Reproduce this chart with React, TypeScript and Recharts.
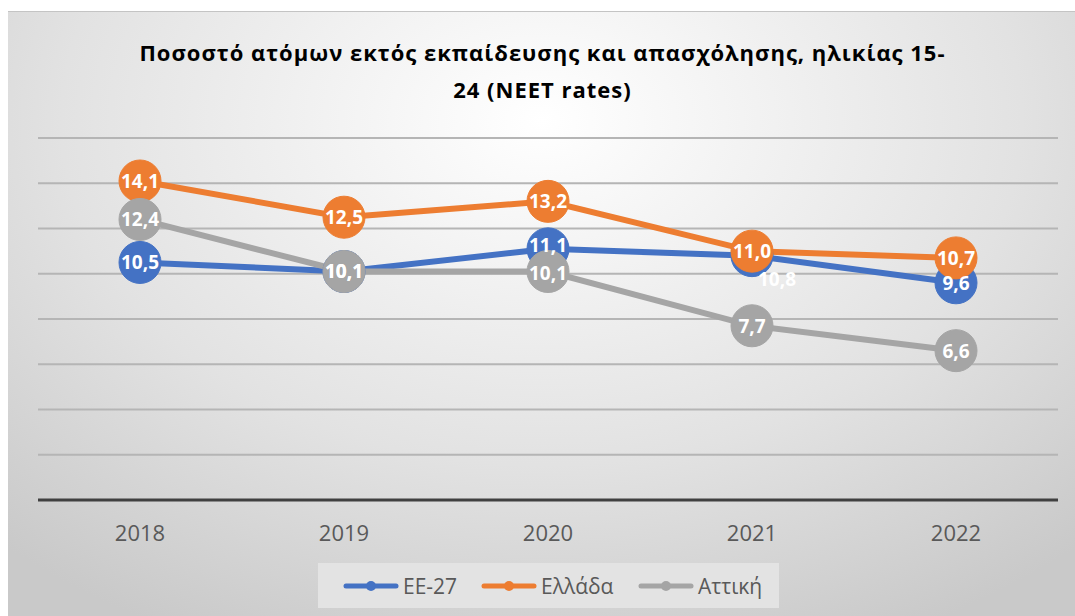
import React from 'react';
import { LineChart, Line, XAxis, YAxis, CartesianGrid, LabelList } from 'recharts';

const years = ['2018', '2019', '2020', '2021', '2022'];
const eu27 = [10.5, 10.1, 11.1, 10.8, 9.6];
const greece = [14.1, 12.5, 13.2, 11.0, 10.7];
const attica = [12.4, 10.1, 10.1, 7.7, 6.6];
const yTicks = [0, 2, 4, 6, 8, 10, 12, 14, 16];
const seriesNames = ['ΕΕ-27', 'Ελλάδα', 'Αττική'];
const titleLines = ['Ποσοστό ατόμων εκτός εκπαίδευσης και απασχόλησης, ηλικίας 15-', '24 (NEET rates)'];

const COLORS = ['#4472C4', '#ED7D31', '#A5A5A5'];
const FONT = '"Open Sans", "Noto Sans", sans-serif';
const LEGEND_X = [25, 163, 320];

const data = years.map((y, i) => ({ year: y, eu: eu27[i], gr: greece[i], at: attica[i] }));

const fmt = (v: number) => v.toFixed(1).replace('.', ',');

const makeLabel = (key: string) => (props: any) => {
  const { x, y, value, index } = props;
  let dx = 0;
  let dy = 0;
  if (key === 'eu' && index === 3) {
    dx = 25;
    dy = 23;
  }
  if (key === 'eu' && index === 2) {
    dy = -4;
  }
  if (key === 'at' && index === 2) {
    dy = 2;
  }
  return (
    <text
      x={x + dx}
      y={y + dy}
      textAnchor="middle"
      dominantBaseline="central"
      fill="#ffffff"
      fontFamily={FONT}
      fontWeight={700}
      fontSize={19}
    >
      {fmt(value)}
    </text>
  );
};

const XTick = (props: any) => {
  const { x, y, payload } = props;
  return (
    <text x={x} y={y} dy={32} textAnchor="middle" dominantBaseline="central" fill="#595959" fontFamily={FONT} fontSize={22}>
      {payload.value}
    </text>
  );
};

const keys = ['eu', 'gr', 'at'];

export default function App() {
  return (
    <div
      style={{
        position: 'absolute',
        left: 8,
        top: 11,
        width: 1067,
        height: 605,
        borderTop: '1px solid #c4c4c4',
        boxSizing: 'border-box',
        background:
          'radial-gradient(ellipse 75% 95% at 50% 18%, #ffffff 0%, #f3f3f3 25%, #e2e2e2 60%, #c9c9c9 100%)',
      }}
    >
      <div
        style={{
          position: 'absolute',
          left: 0,
          top: 22,
          width: 1069,
          textAlign: 'center',
          fontFamily: FONT,
          fontWeight: 700,
          fontSize: 22,
          letterSpacing: 1,
          lineHeight: '37px',
          color: '#000000',
        }}
      >
        {titleLines.map((t) => (
          <div key={t}>{t}</div>
        ))}
      </div>
      <div style={{ position: 'absolute', left: 0, top: 0 }}>
        <LineChart width={1067} height={605} data={data} margin={{ top: 126, right: 17, left: 30, bottom: 57 }}>
          <CartesianGrid horizontal={true} vertical={false} stroke="#b5b5b5" strokeWidth={2} />
          <YAxis hide domain={[0, 16]} ticks={yTicks} />
          <XAxis
            dataKey="year"
            height={60}
            padding={{ left: 102, right: 102 }}
            axisLine={{ stroke: '#404040', strokeWidth: 3 }}
            tickLine={false}
            tickSize={0}
            tickMargin={0}
            tick={<XTick />}
            interval={0}
          />
          {keys.map((k, i) => (
            <Line
              key={k}
              type="linear"
              dataKey={k}
              stroke={COLORS[i]}
              strokeWidth={6}
              dot={{ r: 21, fill: COLORS[i], stroke: COLORS[i], strokeWidth: 1 }}
              activeDot={false}
              isAnimationActive={false}
            />
          ))}
          {keys.map((k) => (
            <Line
              key={k + '-labels'}
              type="linear"
              dataKey={k}
              stroke="none"
              dot={false}
              activeDot={false}
              legendType="none"
              isAnimationActive={false}
            >
              <LabelList dataKey={k} content={makeLabel(k)} />
            </Line>
          ))}
        </LineChart>
      </div>
      <div
        style={{
          position: 'absolute',
          left: 310,
          top: 551,
          width: 461,
          height: 45,
          background: '#e3e3e3',
          fontFamily: FONT,
          fontSize: 21,
          color: '#595959',
        }}
      >
        {seriesNames.map((n, i) => (
          <div
            key={n}
            style={{ position: 'absolute', left: LEGEND_X[i], top: 0, height: 45, display: 'flex', alignItems: 'center', whiteSpace: 'nowrap' }}
          >
            <svg width={56} height={14} style={{ marginRight: 4 }}>
              <line x1={3} y1={7} x2={53} y2={7} stroke={COLORS[i]} strokeWidth={5} strokeLinecap="round" />
              <circle cx={28} cy={7} r={5} fill={COLORS[i]} />
            </svg>
            <span>{n}</span>
          </div>
        ))}
      </div>
    </div>
  );
}
